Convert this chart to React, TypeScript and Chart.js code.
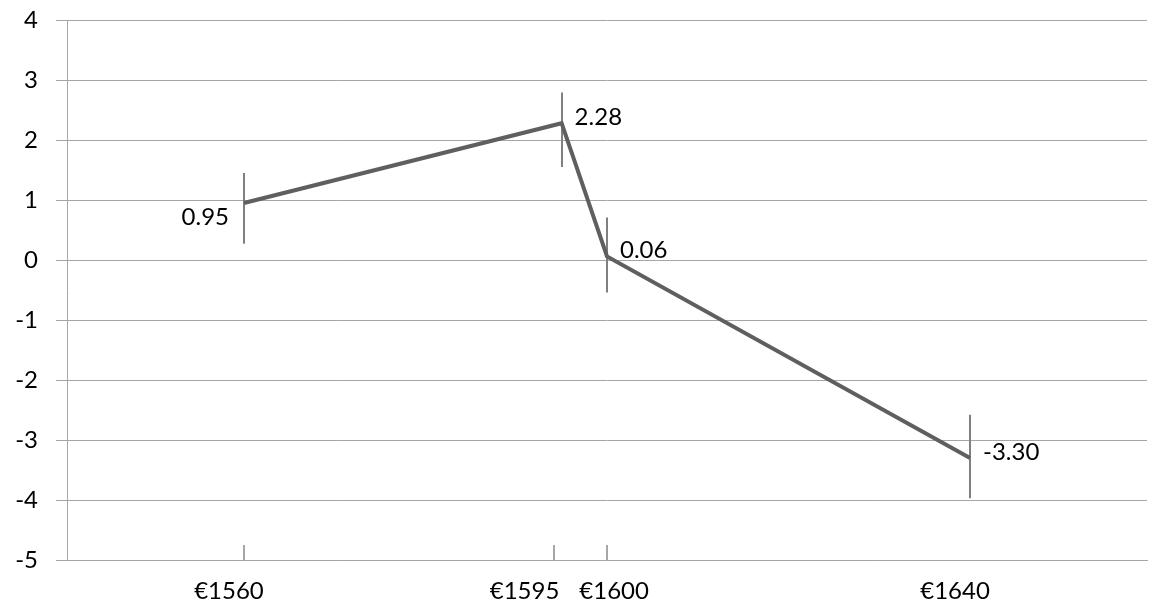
import React, { useEffect, useRef } from "react";
import { Chart, registerables } from "chart.js";

Chart.register(...registerables);

// ---- data ----
const prices = [1560, 1595, 1600, 1640];
const values = [0.95, 2.28, 0.06, -3.3];
const errorHigh = [1.45, 2.79, 0.71, -2.58];
const errorLow = [0.27, 1.55, -0.54, -3.97];
const xLabels = ["€1560", "€1595", "€1600", "€1640"];
const xTickMarks = [1560, 1594.2, 1600];
const labelSides = ["left", "right", "right", "right"];
const yMin = -5;
const yMax = 4;
const xMin = 1540.5;
const xMax = 1659.5;

const FONT = "Lato, 'Open Sans', sans-serif";
const GRID = "#a6a6a6";

const overlay = {
  id: "overlay",
  beforeDatasetsDraw(chart: any) {
    const { ctx, scales } = chart;
    const x = scales.x;
    const y = scales.y;
    ctx.save();
    ctx.strokeStyle = "#808080";
    ctx.lineWidth = 2;
    prices.forEach((p, i) => {
      const px = Math.round(x.getPixelForValue(p));
      ctx.beginPath();
      ctx.moveTo(px, y.getPixelForValue(errorHigh[i]));
      ctx.lineTo(px, y.getPixelForValue(errorLow[i]));
      ctx.stroke();
    });
    ctx.restore();
  },
  afterDraw(chart: any) {
    const { ctx, scales, chartArea } = chart;
    const x = scales.x;
    const y = scales.y;
    ctx.save();
    // upward tick marks on the x axis
    ctx.strokeStyle = GRID;
    ctx.lineWidth = 2;
    xTickMarks.forEach((v) => {
      const px = Math.round(x.getPixelForValue(v));
      ctx.beginPath();
      ctx.moveTo(px, chartArea.bottom);
      ctx.lineTo(px, chartArea.bottom - 15);
      ctx.stroke();
    });

    // x labels with simple overlap resolution
    ctx.font = `24px ${FONT}`;
    ctx.fillStyle = "#000";
    ctx.textAlign = "center";
    ctx.textBaseline = "alphabetic";
    const widths = xLabels.map((t) => ctx.measureText(t).width);
    const centers = prices.map((p) => x.getPixelForValue(p) - 15);
    const gap = 20;
    for (let i = 1; i < centers.length; i++) {
      const diff = centers[i] - widths[i] / 2 - (centers[i - 1] + widths[i - 1] / 2);
      if (diff < gap) {
        const push = (gap - diff) / 2;
        centers[i - 1] -= push;
        centers[i] += push;
      }
    }
    xLabels.forEach((t, i) => {
      ctx.fillText(t, centers[i], chartArea.bottom + 39);
    });

    // data labels
    ctx.textBaseline = "middle";
    values.forEach((v, i) => {
      const px = x.getPixelForValue(prices[i]);
      const py = y.getPixelForValue(v);
      const text = v.toFixed(2);
      if (labelSides[i] === "left") {
        ctx.textAlign = "right";
        ctx.fillText(text, px - 15, py + 14);
      } else {
        ctx.textAlign = "left";
        ctx.fillText(text, px + 13, py - 6);
      }
    });
    ctx.restore();
  },
};

export default function App() {
  const ref = useRef<HTMLCanvasElement | null>(null);
  useEffect(() => {
    document.body.style.margin = "0";
    Chart.defaults.font.family = FONT;
    const chart = new Chart(ref.current as HTMLCanvasElement, {
      type: "line",
      data: {
        datasets: [
          {
            data: prices.map((p, i) => ({ x: p, y: values[i] })),
            borderColor: "#5f5f5f",
            borderWidth: 4,
            pointRadius: 0,
            tension: 0,
            fill: false,
          },
        ],
      },
      options: {
        animation: false,
        responsive: true,
        maintainAspectRatio: false,
        layout: { padding: { top: 20, right: 5, left: 0, bottom: 0 } },
        plugins: {
          legend: { display: false },
          tooltip: { enabled: false },
        },
        scales: {
          x: {
            type: "linear",
            min: xMin,
            max: xMax,
            grid: { display: false, drawTicks: false },
            border: { display: true, color: GRID, width: 1 },
            ticks: { display: false },
            afterFit: (s: any) => {
              s.height = 46;
              s.paddingLeft = 0;
              s.paddingRight = 0;
            },
          },
          y: {
            min: yMin,
            max: yMax,
            ticks: {
              stepSize: 1,
              padding: 18,
              color: "#000",
              font: { size: 24, family: FONT },
              callback: (v: any) => String(v),
            },
            grid: { color: GRID, lineWidth: 1, tickLength: 11, drawTicks: true },
            border: { display: true, color: GRID, width: 1 },
            afterFit: (s: any) => {
              s.width = 67;
              s.paddingTop = 0;
              s.paddingBottom = 0;
            },
          },
        },
      },
      plugins: [overlay],
    });
    return () => chart.destroy();
  }, []);
  return (
    <div style={{ position: "fixed", left: 0, top: 0, width: 1152, height: 606, background: "#fff" }}>
      <canvas ref={ref} />
    </div>
  );
}
